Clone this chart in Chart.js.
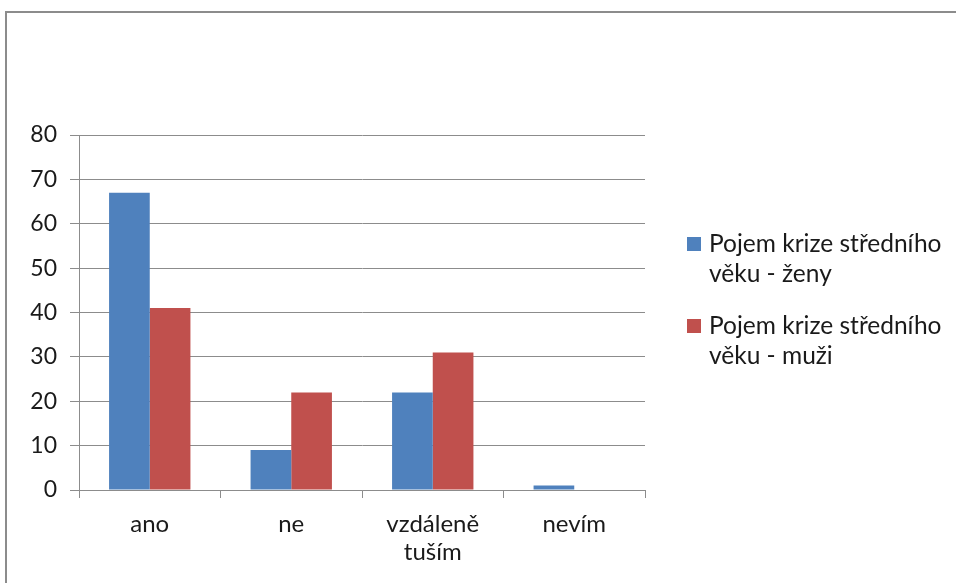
<!DOCTYPE html>
<html>
<head>
<meta charset="utf-8">
<script src="https://cdn.jsdelivr.net/npm/chart.js@4.4.1/dist/chart.umd.min.js"></script>
<style>
  html, body { margin: 0; padding: 0; background: #fff; }
  #wrap { position: relative; width: 956px; height: 583px; overflow: hidden; }
  #frame { position: absolute; left: 5px; top: 11px; width: 1000px; height: 700px;
           border-left: 2px solid #8c8c8c; border-top: 2px solid #8c8c8c; }
  #chart { position: absolute; left: 0; top: 0; }
  #legend { position: absolute; left: 687px; top: 228px; font-family: Lato, "Open Sans", sans-serif;
            font-size: 24.5px; line-height: 30px; color: #1a1a1a; }
  .item { position: relative; padding-left: 22px; margin-bottom: 22px; }
  .box { position: absolute; left: 0; top: 9px; width: 14px; height: 14px; }
</style>
</head>
<body>
<div id="wrap">
  <div id="frame"></div>
  <canvas id="chart" width="956" height="583"></canvas>
  <div id="legend"></div>
</div>
<script>
const categories = ['ano', 'ne', ['vzdáleně', 'tuším'], 'nevím'];
const zeny = [67, 9, 22, 1];
const muzi = [41, 22, 31, 0];
const seriesNames = ['Pojem krize středního věku - ženy', 'Pojem krize středního věku - muži'];
const legendLines = [['Pojem krize středního', 'věku - ženy'], ['Pojem krize středního', 'věku - muži']];
const yTicks = [0, 10, 20, 30, 40, 50, 60, 70, 80];
const colors = ['#4F81BD', '#C0504D'];

const yFont = { family: 'Lato, "Open Sans", sans-serif', size: 23 };
const xFont = { family: 'Lato, "Open Sans", sans-serif', size: 24, lineHeight: 1.17 };

const chart = new Chart(document.getElementById('chart'), {
  type: 'bar',
  data: {
    labels: categories,
    datasets: [
      { label: seriesNames[0], data: zeny, backgroundColor: colors[0] },
      { label: seriesNames[1], data: muzi, backgroundColor: colors[1] }
    ]
  },
  options: {
    responsive: false,
    animation: false,
    layout: { padding: { top: 135, right: 311, left: 0, bottom: 0 } },
    plugins: { legend: { display: false }, tooltip: { enabled: false } },
    datasets: { bar: { categoryPercentage: 0.575, barPercentage: 1.0, borderWidth: 0 } },
    scales: {
      x: {
        offset: true,
        grid: { offset: true, drawOnChartArea: false, color: '#8c8c8c', tickLength: 8, lineWidth: 1 },
        border: { color: '#8c8c8c' },
        ticks: { color: '#1a1a1a', font: xFont, padding: 12, maxRotation: 0 },
        afterFit: s => { s.height = 93; }
      },
      y: {
        min: 0, max: 80,
        afterBuildTicks: s => { s.ticks = yTicks.map(v => ({ value: v })); },
        grid: { color: '#8c8c8c', tickLength: 9, lineWidth: 1 },
        border: { color: '#8c8c8c' },
        ticks: { color: '#1a1a1a', font: yFont, padding: 13 },
        afterFit: s => { s.width = 79; }
      }
    }
  }
});

// Legend built from the chart's own datasets
const legend = document.getElementById('legend');
chart.data.datasets.forEach((ds, i) => {
  const item = document.createElement('div');
  item.className = 'item';
  const box = document.createElement('span');
  box.className = 'box';
  box.style.background = ds.backgroundColor;
  item.appendChild(box);
  legendLines[i].forEach(t => {
    const line = document.createElement('div');
    line.textContent = t;
    item.appendChild(line);
  });
  legend.appendChild(item);
});
</script>
</body>
</html>
